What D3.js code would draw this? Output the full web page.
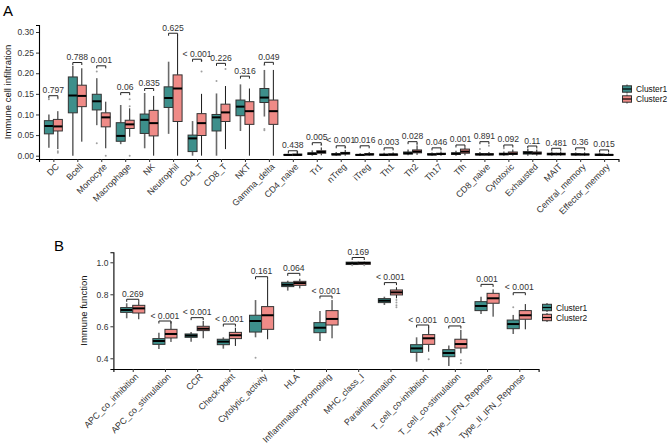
<!DOCTYPE html>
<html><head><meta charset="utf-8">
<script src="https://cdn.jsdelivr.net/npm/d3@7"></script>
<style>body{margin:0;background:#fff}svg{display:block}text{font-family:"Liberation Sans",Arial,sans-serif}</style>
</head><body><svg id="c" width="669" height="445"></svg>
<script>
// ---------- Panel A data ----------
const catsA = ["DC","Bcell","Monocyte","Macrophage","NK","Neutrophil","CD4_T","CD8_T","NKT","Gamma_delta","CD4_naive","Tr1","nTreg","iTreg","Th1","Th2","Th17","Tfh","CD8_naive","Cytotoxic","Exhausted","MAIT","Central_memory","Effector_memory"];
// [whisker low, Q1, median, Q3, whisker high]
const statsA1 = [[0.019,0.053,0.072,0.085,0.10],[0.0,0.104,0.146,0.191,0.218],[0.074,0.111,0.132,0.149,0.188],[0.028,0.035,0.048,0.080,0.123],[0.018,0.054,0.087,0.101,0.152],[0.053,0.117,0.140,0.167,0.228],[0.0,0.010,0.042,0.050,0.084],[0.0,0.060,0.093,0.100,0.151],[0.060,0.097,0.119,0.135,0.173],[0.095,0.129,0.141,0.163,0.208],[0,0.001,0.002,0.003,0.005],[0,0.003,0.005,0.007,0.013],[0,0.002,0.003,0.005,0.009],[0,0.001,0.002,0.003,0.006],[0,0.001,0.002,0.004,0.007],[0.001,0.004,0.006,0.009,0.015],[0,0.002,0.003,0.005,0.008],[0,0.003,0.005,0.007,0.012],[0,0.002,0.003,0.005,0.009],[0,0.002,0.004,0.006,0.010],[0,0.004,0.007,0.010,0.016],[0,0.002,0.004,0.006,0.010],[0,0.002,0.003,0.005,0.008],[0,0.001,0.002,0.004,0.007]];
const statsA2 = [[0.016,0.060,0.071,0.088,0.108],[0.034,0.119,0.145,0.171,0.212],[0.018,0.070,0.093,0.104,0.131],[0.046,0.066,0.076,0.086,0.115],[0.0,0.048,0.079,0.110,0.145],[0.0,0.083,0.163,0.196,0.294],[0.0,0.049,0.079,0.102,0.150],[0.016,0.083,0.105,0.125,0.169],[0.0,0.076,0.108,0.131,0.163],[0.0,0.076,0.108,0.135,0.208],[0,0.001,0.002,0.004,0.007],[0.001,0.006,0.009,0.012,0.020],[0,0.004,0.006,0.008,0.014],[0,0.002,0.003,0.005,0.009],[0,0.001,0.003,0.004,0.008],[0.002,0.007,0.010,0.014,0.025],[0,0.003,0.004,0.006,0.010],[0.001,0.006,0.010,0.016,0.020],[0,0.002,0.003,0.005,0.009],[0,0.003,0.005,0.009,0.015],[0,0.004,0.006,0.009,0.015],[0,0.002,0.004,0.006,0.010],[0,0.002,0.003,0.004,0.008],[0,0.001,0.002,0.003,0.006]];
const outA1 = [[0.137],[],[0.030,0.204],[],[],[],[],[0.181],[],[0.065,0.062,0.220],[],[],[],[],[],[],[],[],[0.016],[0.018],[],[],[],[]];
const outA2 = [[0.139,0.011,0.007],[],[0.0],[0.137,0.120,0.0],[],[],[0.230,0.204],[0.210],[],[],[0.009],[0.026],[0.020],[],[],[0.028],[],[],[0.024],[],[],[],[],[]];
const bracketA = [0.1455,0.226,0.218,0.153,0.163,0.297,0.234,0.224,0.193,0.2265,0.012,0.0315,0.024,0.024,0.019,0.034,0.019,0.026,0.034,0.026,0.0235,0.018,0.019,0.014];
const pA = ["0.797","0.788","0.001","0.06","0.835","0.625","< 0.001","0.226","0.316","0.049","0.438","0.005","< 0.001","0.016","0.003","0.028","0.046","0.001","0.891","0.092","0.11","0.481","0.36","0.015"];
const ticksA = [0.00,0.05,0.10,0.15,0.20,0.25,0.30];

// ---------- Panel B data ----------
const catsB = ["APC_co_inhibition","APC_co_stimulation","CCR","Check-point","Cytolytic_activity","HLA","Inflammation-promoting","MHC_class_I","Parainflammation","T_cell_co-inhibition","T_cell_co-stimulation","Type_I_IFN_Reponse","Type_II_IFN_Reponse"];
const statsB1 = [[0.650,0.687,0.702,0.717,0.744],[0.458,0.487,0.508,0.523,0.560],[0.504,0.531,0.542,0.552,0.564],[0.460,0.485,0.504,0.519,0.531],[0.531,0.564,0.633,0.669,0.764],[0.823,0.848,0.860,0.875,0.885],[0.508,0.560,0.591,0.623,0.696],[0.983,0.986,0.994,1.001,1.004],[0.733,0.748,0.760,0.773,0.785],[0.379,0.437,0.462,0.485,0.531],[0.352,0.410,0.433,0.454,0.480],[0.677,0.698,0.727,0.754,0.785],[0.552,0.585,0.614,0.639,0.671]];
const statsB2 = [[0.644,0.683,0.712,0.731,0.754],[0.502,0.527,0.552,0.581,0.629],[0.525,0.573,0.585,0.600,0.633],[0.477,0.523,0.544,0.562,0.591],[0.519,0.581,0.669,0.723,0.894],[0.837,0.856,0.870,0.881,0.897],[0.525,0.608,0.646,0.698,0.764],[0.984,0.987,0.996,1.001,1.004],[0.775,0.796,0.812,0.827,0.844],[0.441,0.487,0.525,0.548,0.598],[0.431,0.464,0.489,0.519,0.577],[0.660,0.744,0.775,0.806,0.831],[0.581,0.644,0.669,0.698,0.739]];
const outB1 = [[],[],[],[],[0.404],[],[],[0.981],[],[],[],[],[0.719]];
const outB2 = [[],[],[],[],[],[],[],[0.981],[0.764,0.748,0.731,0.719],[0.394],[0.389,0.369],[],[]];
const bracketB = [0.769,0.633,0.654,0.614,0.91,0.931,0.789,1.03,0.873,0.608,0.602,0.862,0.81];
const pB = ["0.269","< 0.001","< 0.001","< 0.001","0.161","0.064","< 0.001","0.169","< 0.001","< 0.001","0.001","0.001","< 0.001"];
const ticksB = [0.4,0.6,0.8,1.0];

const groups = ["Cluster1","Cluster2"];
const fills = ["#3D8F8B","#EF8B87"];
const whiskerCol = ["#6a6a6a","#1a1a1a"];

const svg = d3.select("#c");

function panel(o){
  const g = svg.append("g");
  const x = d3.scalePoint().domain(o.cats).range([o.x0,o.x1]).padding(0.6);
  const y = d3.scaleLinear().domain(o.yDom).range([o.yBot,o.yTop]);
  const step = x.step();
  const bw = step*0.375, off = step*0.1875;
  const sets = [[o.s1,o.o1],[o.s2,o.o2]];
  o.cats.forEach((c,i)=>{
    sets.forEach(([S,O],k)=>{
      const s = S[i]; const cx = x(c)+(k===0?-off:off);
      g.append("line").attr("x1",cx).attr("x2",cx).attr("y1",y(s[0])).attr("y2",y(s[1]))
        .attr("stroke",whiskerCol[k]).attr("stroke-width",k===0?1.6:1);
      g.append("line").attr("x1",cx).attr("x2",cx).attr("y1",y(s[3])).attr("y2",y(s[4]))
        .attr("stroke",whiskerCol[k]).attr("stroke-width",k===0?1.6:1);
      g.append("rect").attr("x",cx-bw/2).attr("width",bw)
        .attr("y",y(s[3])).attr("height",Math.max(0.5,y(s[1])-y(s[3])))
        .attr("fill",fills[k]).attr("stroke","#333").attr("stroke-width",1);
      g.append("line").attr("x1",cx-bw/2).attr("x2",cx+bw/2).attr("y1",y(s[2])).attr("y2",y(s[2]))
        .attr("stroke","#000").attr("stroke-width",2);
      O[i].forEach(v=>{
        g.append("circle").attr("cx",cx).attr("cy",y(v)).attr("r",1).attr("fill","#a0a0a0");
      });
    });
    // bracket
    const by = y(o.br[i]), xa = x(c)-off, xb = x(c)+off;
    g.append("path").attr("d",`M${xa},${by+2.5}V${by}H${xb}V${by+2.5}`)
      .attr("fill","none").attr("stroke","#222").attr("stroke-width",1);
    g.append("text").attr("x",x(c)).attr("y",by-2.5).attr("text-anchor","middle")
      .attr("font-size",o.pfs).attr("fill","#333").text(o.p[i]);
  });
  // axes
  const ya = g.append("g").attr("transform",`translate(${o.x0},0)`)
    .call(d3.axisLeft(y).tickValues(o.ticks).tickFormat(o.fmt).tickSizeOuter(0).tickSize(3).tickPadding(2));
  const xa = g.append("g").attr("transform",`translate(0,${o.yBot})`)
    .call(d3.axisBottom(x).tickSizeOuter(0).tickSize(3).tickPadding(2));
  [ya,xa].forEach(a=>{
    a.select(".domain").attr("stroke","#000").attr("stroke-width",1.1);
    a.selectAll(".tick line").attr("stroke","#333");
    a.selectAll("text").attr("font-family","Liberation Sans, Arial, sans-serif").attr("fill","#333");
  });
  ya.selectAll("text").attr("font-size",8.5);
  xa.selectAll("text").attr("font-size",8.9).attr("text-anchor","end")
    .attr("transform","rotate(-45)").attr("dx","-0.2em").attr("dy","0.55em");
  g.append("text").attr("transform",`translate(${o.ylabX},${(o.yTop+o.yBot)/2}) rotate(-90)`)
    .attr("text-anchor","middle").attr("font-size",9.5).attr("fill","#111").text(o.ylab);
  // legend
  groups.forEach((gr,k)=>{
    const ly = o.legY + k*10, lx = o.legX;
    g.append("line").attr("x1",lx).attr("x2",lx).attr("y1",ly-4.5).attr("y2",ly+4.5).attr("stroke","#333");
    g.append("rect").attr("x",lx-4.5).attr("y",ly-3.2).attr("width",9).attr("height",6.4)
      .attr("fill",fills[k]).attr("stroke","#333").attr("stroke-width",1);
    g.append("line").attr("x1",lx-4.5).attr("x2",lx+4.5).attr("y1",ly).attr("y2",ly).attr("stroke","#000").attr("stroke-width",1.2);
    g.append("text").attr("x",lx+9).attr("y",ly+3.2).attr("font-size",8.4).attr("fill","#111").text(gr);
  });
  g.append("text").attr("x",o.tagX).attr("y",o.tagY).attr("font-size",15).attr("fill","#000").text(o.tag);
}

panel({cats:catsA,s1:statsA1,s2:statsA2,o1:outA1,o2:outA2,br:bracketA,p:pA,ticks:ticksA,
  fmt:d3.format(".2f"),x0:39,x1:618.5,yDom:[-0.008,0.317],yBot:159,yTop:25,pfs:8.6,
  ylab:"Immune cell infiltration",ylabX:11,legX:627,legY:89,tag:"A",tagX:3,tagY:16});
panel({cats:catsB,s1:statsB1,s2:statsB2,o1:outB1,o2:outB2,br:bracketB,p:pB,ticks:ticksB,
  fmt:d3.format(".1f"),x0:113.4,x1:538.6,yDom:[0.333,1.0625],yBot:369,yTop:252.3,pfs:8.6,
  ylab:"Immune function",ylabX:87,legX:547,legY:307.5,tag:"B",tagX:54,tagY:251});
</script></body></html>
